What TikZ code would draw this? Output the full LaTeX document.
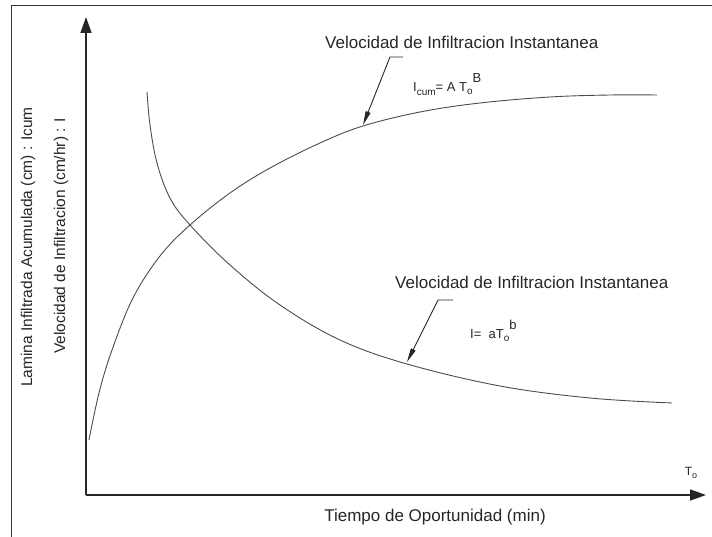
\documentclass[tikz,border=0pt]{standalone}
\usepackage{fontspec}
\setmainfont{Liberation Sans}
\usetikzlibrary{arrows.meta}
\begin{document}
\begin{tikzpicture}[x=1pt,y=-1pt,
  axis/.style={line width=1.4pt,black!85,-{Triangle[length=16pt,width=11pt]}},
  curve/.style={line width=0.9pt,black!70},
  leader/.style={line width=0.9pt,black!85,-{Triangle[length=14pt,width=5pt]}},
  lbl/.style={font=\fontsize{17}{18}\selectfont,text=black!85,inner sep=0pt},
  ylbl/.style={font=\fontsize{15.5}{17}\selectfont,text=black!85,inner sep=0pt,rotate=90},
  eq/.style={font=\fontsize{13}{14}\selectfont,text=black!85,inner sep=0pt}]
\useasboundingbox (0,0) rectangle (712,537);
% frame
\draw[line width=1.2pt,black!80] (11.5,537) -- (11.5,5.5) -- (712,5.5);
% axes
\coordinate (O) at (86,495);
\coordinate (ytop) at (86,17);
\coordinate (xend) at (706,495);
\draw[axis] (O) -- (ytop);
\draw[axis] (O) -- (xend);
% curves
\draw[curve] plot[smooth,tension=0.6] coordinates {(89,440) (99,393) (112,350) (133,298) (160,256) (190,225) (230,193) (270,168) (320,143) (363,126) (420,112) (480,103) (550,97) (610,95) (657,95)};
\draw[curve] plot[smooth,tension=0.6] coordinates {(147,92) (150,125) (157,163) (170,198) (190,225) (230,265) (280,305) (340,340) (407,364) (500,386) (590,398) (672,403)};
% titles
\node[lbl,anchor=west] (t1) at (325,42) {Velocidad de Infiltracion Instantanea};
\node[lbl,anchor=west] (t2) at (395,282) {Velocidad de Infiltracion Instantanea};
% leaders
\coordinate (a1) at (403,57);
\coordinate (b1) at (390,57);
\coordinate (c1) at (363,125);
\draw[leader] (a1) -- (b1) -- (c1);
\coordinate (a2) at (453,300);
\coordinate (b2) at (438,300);
\coordinate (c2) at (407,362);
\draw[leader] (a2) -- (b2) -- (c2);
% equations
\node[eq,anchor=base west] (e1) at (413,92) {I\raisebox{-4pt}{\fontsize{10}{10}\selectfont cum}= A T\raisebox{-3pt}{\fontsize{10}{10}\selectfont o}\raisebox{9pt}{B}};
\node[eq,anchor=base west] (e2) at (470,338) {I= \ aT\raisebox{-3pt}{\fontsize{10}{10}\selectfont o}\raisebox{9pt}{b}};
% axis labels
\node[lbl,anchor=center] (xl) at (435,517) {Tiempo de Oportunidad (min)};
\node[font=\fontsize{12}{12}\selectfont,text=black!85,inner sep=0pt] (to) at (691,473) {T\raisebox{-2.5pt}{\fontsize{9}{9}\selectfont o}};
\node[ylbl] (y1) at (28,247) {Lamina Infiltrada Acumulada (cm) : Icum};
\node[ylbl] (y2) at (61,236) {Velocidad de Infiltracion (cm/hr) : I};
\end{tikzpicture}
\end{document}
